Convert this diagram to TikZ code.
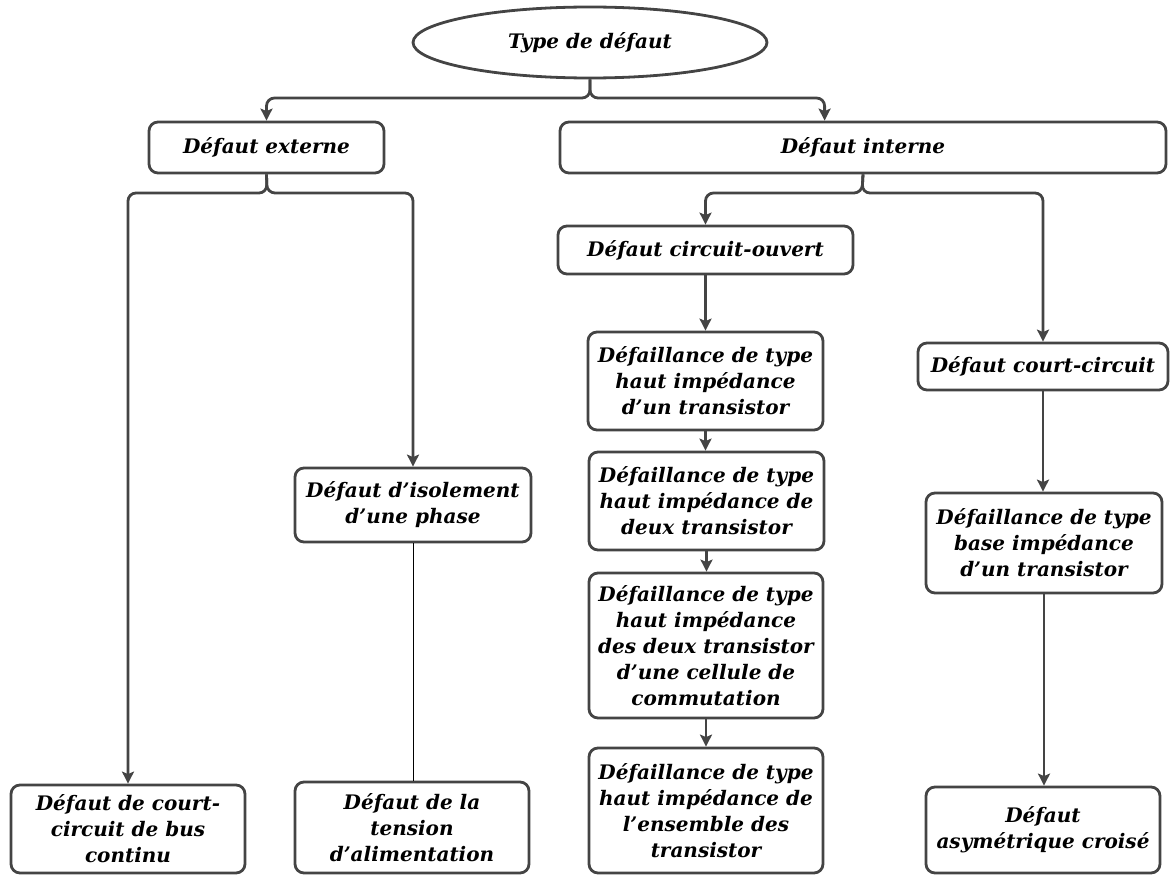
\documentclass[tikz,border=0pt]{standalone}
\usepackage{fontspec}
\setmainfont{DejaVu Serif}
\usetikzlibrary{shapes.geometric,arrows.meta,calc}
\definecolor{linec}{HTML}{444444}
\newcommand{\bxfont}{\fontsize{20}{26}\selectfont\bfseries\itshape}
\tikzset{
  box/.style={draw=linec, line width=2.8pt, rounded corners=9pt, align=center,
    font=\bxfont, inner sep=0pt, text=black},
  conn/.style={draw=linec, line width=2.8pt, rounded corners=8pt,
    -{Stealth[length=12pt,width=12pt,inset=2.5pt]}},
  thinconn/.style={draw=black, line width=0.9pt},
}
\begin{document}
\begin{tikzpicture}[x=1pt,y=-1pt]
\useasboundingbox (0,0) rectangle (1171,875);
% nodes
\node[box, ellipse, rounded corners=0pt, minimum width=354pt, minimum height=71pt] (root) at (590,42.5) {Type de défaut};
\node[box, minimum width=235pt, minimum height=51pt] (ext) at (266.5,147.5) {Défaut externe};
\node[box, minimum width=606pt, minimum height=51pt] (int) at (863,147.5) {Défaut interne};
\node[box, minimum width=295pt, minimum height=48pt] (co) at (705.5,250) {Défaut circuit-ouvert};
\node[box, minimum width=235pt, minimum height=98pt] (b1) at (705.5,381) {Défaillance de type\\haut impédance\\d’un transistor};
\node[box, minimum width=235pt, minimum height=98pt] (b2) at (706.5,501) {Défaillance de type\\haut impédance de\\deux transistor};
\node[box, minimum width=234pt, minimum height=145pt] (b3) at (706,645.5) {Défaillance de type\\haut impédance\\des deux transistor\\d’une cellule de\\commutation};
\node[box, minimum width=234pt, minimum height=125pt] (b4) at (706,810.5) {Défaillance de type\\haut impédance de\\l’ensemble des\\transistor};
\node[box, minimum width=250pt, minimum height=47pt] (cc) at (1043,366.5) {Défaut court-circuit};
\node[box, minimum width=236pt, minimum height=100pt] (bi) at (1044,543) {Défaillance de type\\base impédance\\d’un transistor};
\node[box, minimum width=234pt, minimum height=86pt] (asy) at (1043,830) {Défaut\\asymétrique croisé};
\node[box, minimum width=236pt, minimum height=74pt] (iso) at (413,505) {Défaut d’isolement\\d’une phase};
\node[box, minimum width=234pt, minimum height=91pt] (ten) at (412,827.5) {Défaut de la\\tension\\d’alimentation};
\node[box, minimum width=234pt, minimum height=88pt] (bus) at (128,829) {Défaut de court-\\circuit de bus\\continu};
% junction coordinates
\coordinate (j0) at (590,98);
\coordinate (j1) at (267,193);
\coordinate (j2) at (862,193);
\coordinate (intin) at ($(int.north west)+(266,0)$);
% connectors
\draw[conn] (root.south) -- (j0) -| (ext.north);
\draw[conn] (root.south) -- (j0) -| (intin);
\draw[conn] (ext.south) -- (j1) -| (bus.north);
\draw[conn] (ext.south) -- (j1) -| (iso.north);
\draw[conn] (int.south) -- (j2) -| (co.north);
\draw[conn] (int.south) -- (j2) -| (cc.north);
\draw[conn] (co.south) -- (co.south |- b1.north);
\draw[conn] (b1.south) -- (b1.south |- b2.north);
\draw[conn] (b2.south) -- (b2.south |- b3.north);
\draw[conn] (b3.south) -- (b3.south |- b4.north);
\draw[conn] (cc.south) -- (cc.south |- bi.north);
\draw[conn] (bi.south) -- (bi.south |- asy.north);
\draw[thinconn] (iso.south) -- (iso.south |- ten.north);
\end{tikzpicture}
\end{document}
